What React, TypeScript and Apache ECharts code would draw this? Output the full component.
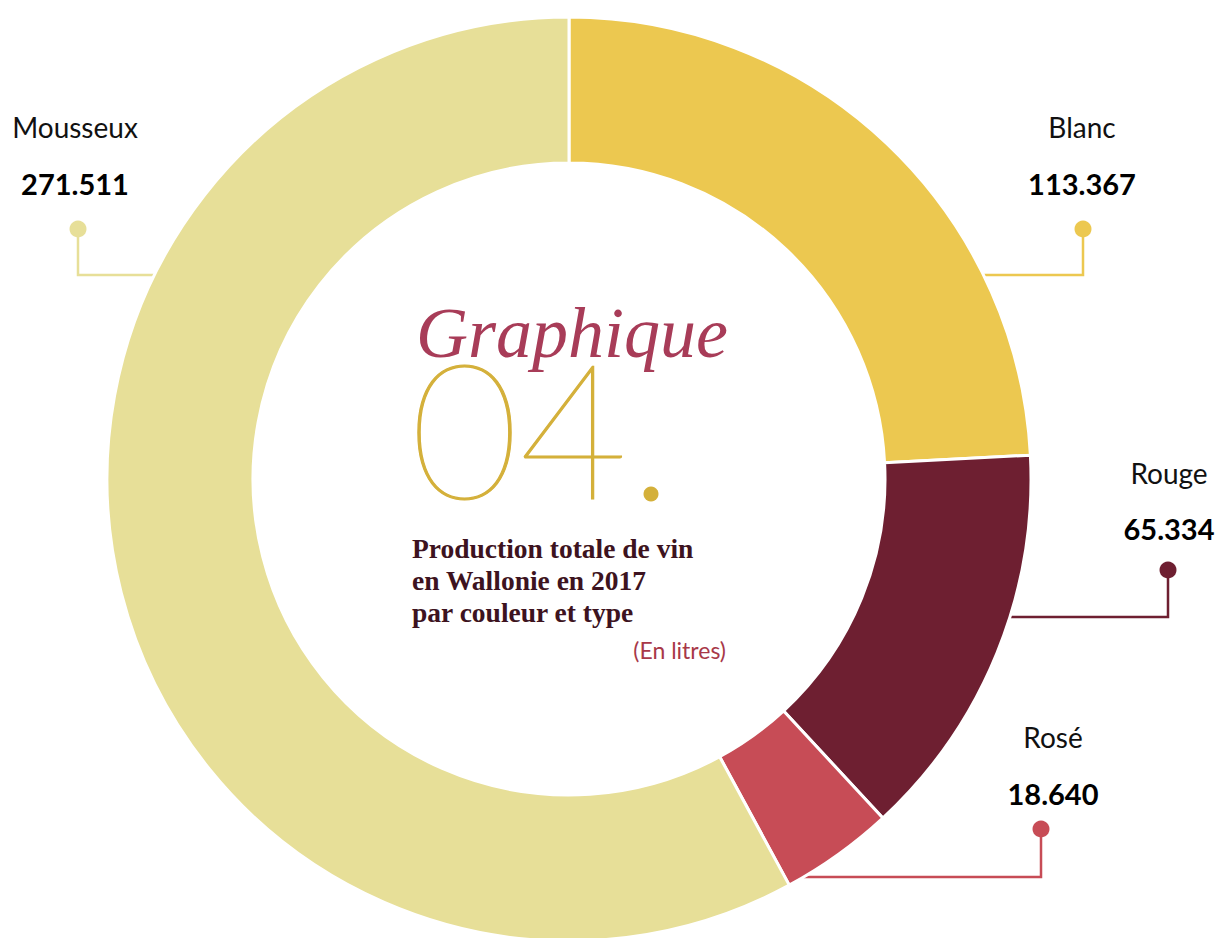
import React, { useEffect, useRef } from "react";
import * as echarts from "echarts";

const categories = ["Blanc", "Rouge", "Rosé", "Mousseux"];
const values = [113367, 65334, 18640, 271511];
const valueLabels = ["113.367", "65.334", "18.640", "271.511"];
const colors = ["#ecc850", "#6e1f31", "#c74c56", "#e7df98"];

// layout of annotation labels (px)
const CX = 569;
const CY = 479;
const R_IN = 316;
const R_OUT = 462;
const labelLayout = [
  { tx: 1082, nameY: 127, valY: 183, dotX: 1083, dotY: 229, lineY: 275, side: 1 },
  { tx: 1169, nameY: 473, valY: 528, dotX: 1168, dotY: 570, lineY: 617, side: 1 },
  { tx: 1053, nameY: 737, valY: 793, dotX: 1041, dotY: 829, lineY: 877, side: 1 },
  { tx: 75, nameY: 127, valY: 183, dotX: 78, dotY: 229, lineY: 275, side: -1 },
];

export default function App() {
  const ref = useRef<HTMLDivElement>(null);
  useEffect(() => {
    if (!ref.current) return;
    const chart = echarts.init(ref.current, null, { renderer: "svg" });
    const graphics: any[] = [];
    categories.forEach((name, i) => {
      const l = labelLayout[i];
      const dy = l.lineY - CY;
      const edgeX = CX + l.side * Math.sqrt(R_OUT * R_OUT - dy * dy);
      graphics.push({
        type: "polyline",
        silent: true,
        z: 1,
        shape: { points: [[edgeX, l.lineY], [l.dotX, l.lineY], [l.dotX, l.dotY]] },
        style: { stroke: colors[i], lineWidth: 2.5, fill: null },
      });
      graphics.push({
        type: "circle",
        silent: true,
        shape: { cx: l.dotX, cy: l.dotY, r: 8.5 },
        style: { fill: colors[i] },
      });
      graphics.push({
        type: "text",
        x: l.tx,
        y: l.nameY,
        style: {
          text: name,
          fontFamily: "Lato",
          fontSize: 28,
          fill: "#111",
          align: "center",
          verticalAlign: "middle",
        },
      });
      graphics.push({
        type: "text",
        x: l.tx,
        y: l.valY,
        style: {
          text: valueLabels[i],
          fontFamily: "Lato",
          fontWeight: "bold",
          fontSize: 29,
          fill: "#000",
          align: "center",
          verticalAlign: "middle",
        },
      });
    });
    // center title
    graphics.push({
      type: "text",
      x: 416,
      y: 333,
      style: {
        text: "Graphique",
        fontFamily: "Liberation Serif",
        fontStyle: "italic",
        fontSize: 72,
        lineHeight: 56,
        fill: "#a83c58",
        align: "left",
        verticalAlign: "middle",
      },
    });
    graphics.push({
      type: "text",
      x: 410,
      y: 426,
      style: {
        text: "04",
        fontFamily: "Lato",
        fontWeight: 100,
        fontSize: 188,
        lineHeight: 120,
        fill: "#d4b03a",
        stroke: "#d4b03a",
        lineWidth: 1.2,
        align: "left",
        verticalAlign: "middle",
      },
    });
    graphics.push({
      type: "circle",
      shape: { cx: 651, cy: 494, r: 7.5 },
      style: { fill: "#d4b03a" },
    });
    const lines = ["Production totale de vin", "en Wallonie en 2017", "par couleur et type"];
    lines.forEach((t, k) => {
      graphics.push({
        type: "text",
        x: 412,
        y: 548 + k * 32,
        style: {
          text: t,
          fontFamily: "Liberation Serif",
          fontWeight: "bold",
          fontSize: 27.5,
          fill: "#3d1320",
          align: "left",
          verticalAlign: "middle",
        },
      });
    });
    graphics.push({
      type: "text",
      x: 726,
      y: 650,
      style: {
        text: "(En litres)",
        fontFamily: "Lato",
        fontSize: 23,
        fill: "#a83848",
        align: "right",
        verticalAlign: "middle",
      },
    });

    chart.setOption({
      animation: false,
      backgroundColor: "#ffffff",
      graphic: graphics,
      series: [
        {
          type: "pie",
          center: [CX, CY],
          radius: [R_IN, R_OUT],
          startAngle: 90,
          clockwise: true,
          silent: true,
          z: 3,
          label: { show: false },
          labelLine: { show: false },
          itemStyle: { borderColor: "#ffffff", borderWidth: 3 },
          data: categories.map((c, i) => ({
            name: c,
            value: values[i],
            itemStyle: { color: colors[i] },
          })),
        },
      ],
    });
    return () => chart.dispose();
  }, []);
  return (
    <div
      ref={ref}
      style={{ position: "fixed", left: 0, top: 0, width: 1216, height: 938 }}
    />
  );
}
